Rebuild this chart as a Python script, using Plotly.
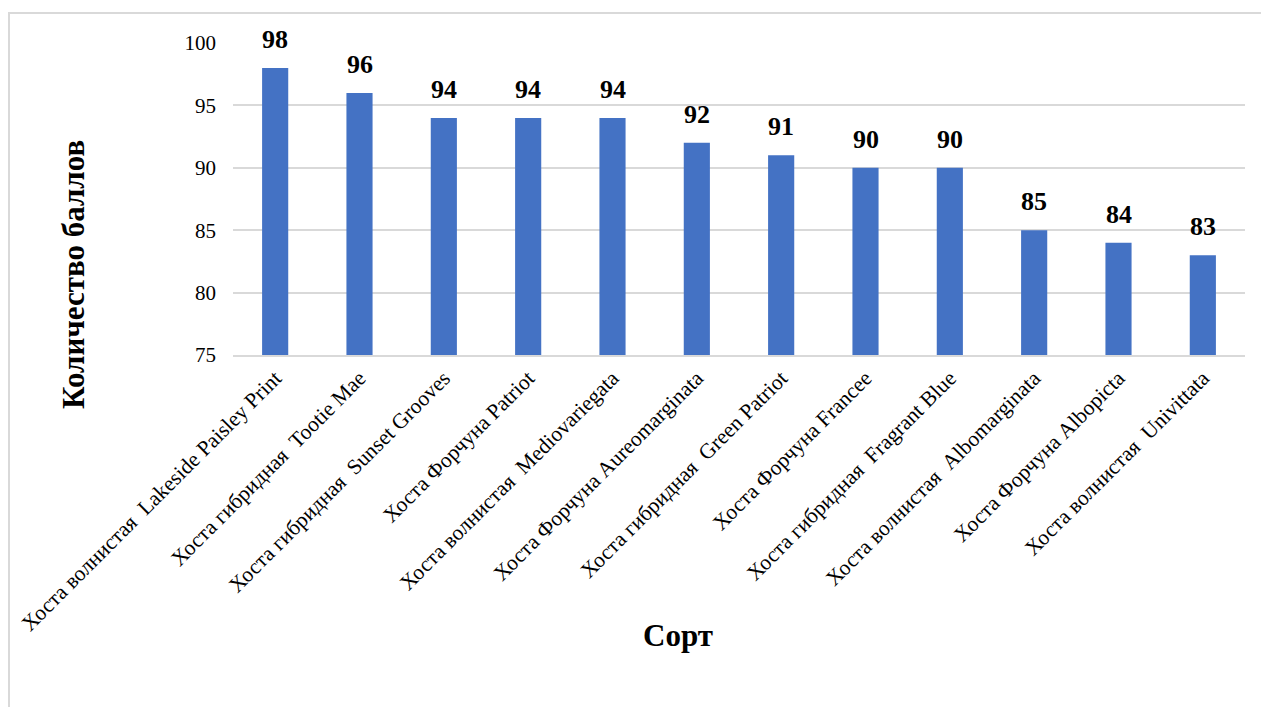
import plotly.graph_objects as go

# Сорта хосты и их суммарные баллы
varieties = [
    "Хоста волнистая  Lakeside Paisley Print",
    "Хоста гибридная  Tootie Mae",
    "Хоста гибридная  Sunset Grooves",
    "Хоста Форчуна Patriot",
    "Хоста волнистая  Mediovariegata",
    "Хоста Форчуна Aureomarginata",
    "Хоста гибридная  Green Patriot",
    "Хоста Форчуна Francee",
    "Хоста гибридная  Fragrant Blue",
    "Хоста волнистая  Albomarginata",
    "Хоста Форчуна Albopicta",
    "Хоста волнистая  Univittata",
]
scores = [98, 96, 94, 94, 94, 92, 91, 90, 90, 85, 84, 83]
y_ticks = [75, 80, 85, 90, 95, 100]

SERIF = "Liberation Serif, Times New Roman, serif"
GRID = "#d9d9d9"

# plot-area geometry in pixels (for placing the frame and titles)
W, H = 1261, 707
L, R, T, B = 233, 16, 43, 352
pw, ph = W - L - R, H - T - B


def px_x(x):
    return (x - L) / pw


def px_y(y):
    return (H - B - y) / ph


fig = go.Figure(
    go.Bar(
        x=varieties,
        y=scores,
        marker=dict(color="#4472C4", line=dict(width=0)),
        width=0.31,
        cliponaxis=False,
    )
)

# value labels above each bar
value_labels = [
    dict(
        x=name,
        y=val,
        xref="x",
        yref="y",
        text=f"<b>{val}</b>",
        showarrow=False,
        xanchor="center",
        yanchor="bottom",
        yshift=12,
        font=dict(family=SERIF, size=26, color="#000000"),
    )
    for name, val in zip(varieties, scores)
]

fig.update_layout(
    width=W,
    height=H,
    margin=dict(l=L, r=R, t=T, b=B, autoexpand=False),
    paper_bgcolor="white",
    plot_bgcolor="white",
    showlegend=False,
    bargap=0.69,
    font=dict(family=SERIF, color="#000000"),
    xaxis=dict(
        tickangle=-45,
        tickfont=dict(family=SERIF, size=21.6, color="#000000"),
        showgrid=False,
        showline=True,
        linecolor=GRID,
        linewidth=2,
        ticks="",
        automargin=False,
    ),
    yaxis=dict(
        range=[75, 100],
        tickvals=y_ticks,
        tickfont=dict(family=SERIF, size=21, color="#000000"),
        showgrid=True,
        gridcolor=GRID,
        gridwidth=2,
        zeroline=False,
        showline=False,
        ticks="",
        ticklabelstandoff=16,
        automargin=False,
    ),
    shapes=[
        dict(
            type="rect",
            xref="paper",
            yref="paper",
            x0=px_x(9),
            x1=px_x(1275),
            y0=px_y(720),
            y1=px_y(13),
            line=dict(color=GRID, width=2),
            fillcolor="rgba(0,0,0,0)",
            layer="below",
        )
    ],
    annotations=value_labels
    + [
        dict(
            text="<b>Количество баллов</b>",
            xref="paper",
            yref="paper",
            x=px_x(73),
            y=px_y(275),
            textangle=-90,
            showarrow=False,
            font=dict(family=SERIF, size=31, color="#000000"),
            xanchor="center",
            yanchor="middle",
        ),
        dict(
            text="<b>Сорт</b>",
            xref="paper",
            yref="paper",
            x=px_x(678),
            y=px_y(635),
            showarrow=False,
            font=dict(family=SERIF, size=31, color="#000000"),
            xanchor="center",
            yanchor="middle",
        ),
    ],
)

fig.write_html("out.html")
